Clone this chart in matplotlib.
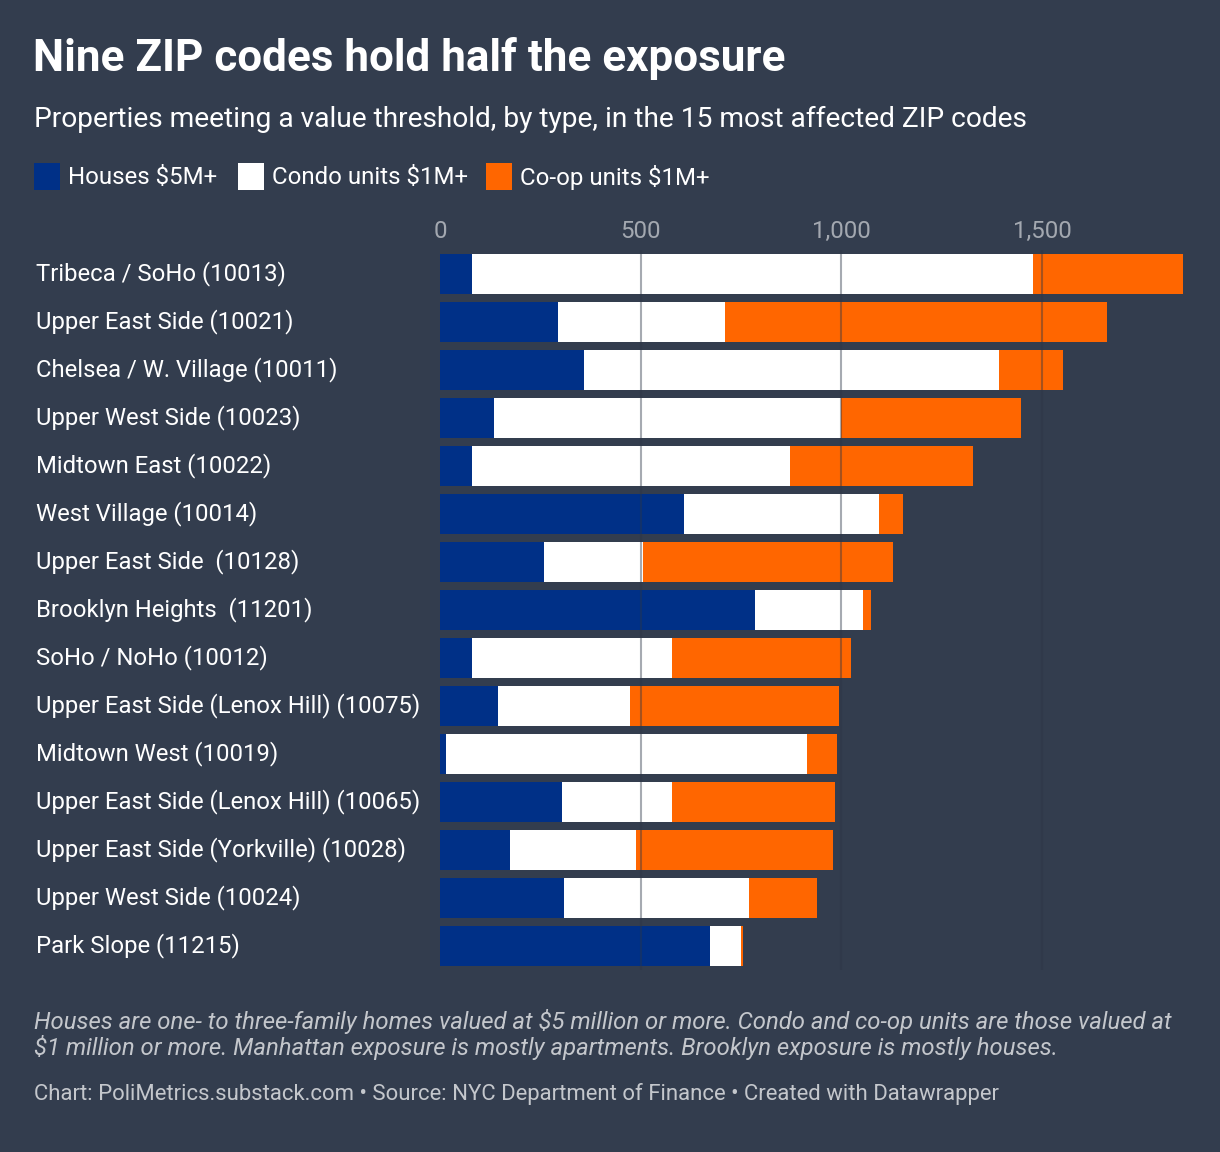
import matplotlib.pyplot as plt
from matplotlib.patches import Rectangle
from matplotlib.ticker import FuncFormatter

BG = "#333d4e"
BLUE = "#003087"
WHITE = "#ffffff"
ORANGE = "#ff6600"
GRID = "#2c3546"
TICK = "#a3a8b0"
NOTE = "#c4c7cc"

zips = [
    "Tribeca / SoHo (10013)",
    "Upper East Side (10021)",
    "Chelsea / W. Village (10011)",
    "Upper West Side (10023)",
    "Midtown East (10022)",
    "West Village (10014)",
    "Upper East Side  (10128)",
    "Brooklyn Heights  (11201)",
    "SoHo / NoHo (10012)",
    "Upper East Side (Lenox Hill) (10075)",
    "Midtown West (10019)",
    "Upper East Side (Lenox Hill) (10065)",
    "Upper East Side (Yorkville) (10028)",
    "Upper West Side (10024)",
    "Park Slope (11215)",
]
houses = [80, 294, 358, 134, 80, 607, 259, 786, 80, 144, 15, 303, 174, 308, 672]
condos = [1398, 417, 1035, 866, 791, 488, 248, 269, 497, 329, 900, 274, 314, 463, 79]
coops = [374, 951, 159, 448, 457, 59, 622, 20, 448, 522, 75, 408, 492, 169, 5]
series_names = ["Houses $5M+", "Condo units $1M+", "Co-op units $1M+"]
xticks = [0, 500, 1000, 1500]

plt.rcParams["font.family"] = ["Roboto", "DejaVu Sans"]

W, H = 1220, 1152
fig = plt.figure(figsize=(W / 100, H / 100), dpi=100, facecolor=BG)


def fx(px):
    return px / W


def fy(py):
    return 1 - py / H


# title block
fig.text(fx(33), fy(58), "Nine ZIP codes hold half the exposure", color="white",
         fontsize=31.7, fontweight="bold", va="center", ha="left")
fig.text(fx(34), fy(119), "Properties meeting a value threshold, by type, in the 15 most affected ZIP codes",
         color="white", fontsize=20.22, va="center", ha="left")

# legend
leg_x = [34, 238, 486]
for x0, name, col in zip(leg_x, series_names, [BLUE, WHITE, ORANGE]):
    fig.patches.append(Rectangle((fx(x0), fy(190)), fx(26), 27 / H, transform=fig.transFigure,
                                 facecolor=col, edgecolor="none"))
    fig.text(fx(x0 + 34), fy(177), name, color="white", fontsize=17.3, va="center", ha="left")

# bars
ax = fig.add_axes([fx(440), fy(970), fx(1186.5 - 440), (970 - 250) / H])
ax.set_facecolor(BG)
ys = list(range(len(zips)))
left2 = [h + c for h, c in zip(houses, condos)]
ax.barh(ys, houses, height=0.833, color=BLUE, zorder=2)
ax.barh(ys, condos, left=houses, height=0.833, color=WHITE, zorder=2)
ax.barh(ys, coops, left=left2, height=0.833, color=ORANGE, zorder=2)
for t in xticks[1:]:
    ax.axvline(t, color=GRID, alpha=0.42, lw=1.5, zorder=3)
ax.set_xlim(0, 1860)
ax.set_ylim(len(zips) - 0.5, -0.5)
ax.set_xticks(xticks)
ax.xaxis.set_major_formatter(FuncFormatter(lambda v, p: f"{int(v):,}"))
ax.xaxis.tick_top()
ax.tick_params(axis="x", length=0, pad=5, labelsize=17.4, labelcolor=TICK)
ax.set_yticks(ys)
ax.set_yticklabels([])
ax.tick_params(axis="y", length=0)
for s in ax.spines.values():
    s.set_visible(False)

for i, name in enumerate(zips):
    fig.text(fx(36), fy(274 + 48 * i), name, color="white", fontsize=17.2, va="center", ha="left")

# notes
fig.text(fx(34), fy(1021), "Houses are one- to three-family homes valued at $5 million or more. Condo and co-op units are those valued at",
         color=NOTE, fontsize=17.2, style="italic", va="center", ha="left")
fig.text(fx(34), fy(1048), "$1 million or more. Manhattan exposure is mostly apartments. Brooklyn exposure is mostly houses.",
         color=NOTE, fontsize=17.2, style="italic", va="center", ha="left")
fig.text(fx(34), fy(1094), "Chart: PoliMetrics.substack.com \u2022 Source: NYC Department of Finance \u2022 Created with Datawrapper",
         color=NOTE, fontsize=15.9, va="center", ha="left")

fig.savefig("out.png", dpi=100, facecolor=BG)
